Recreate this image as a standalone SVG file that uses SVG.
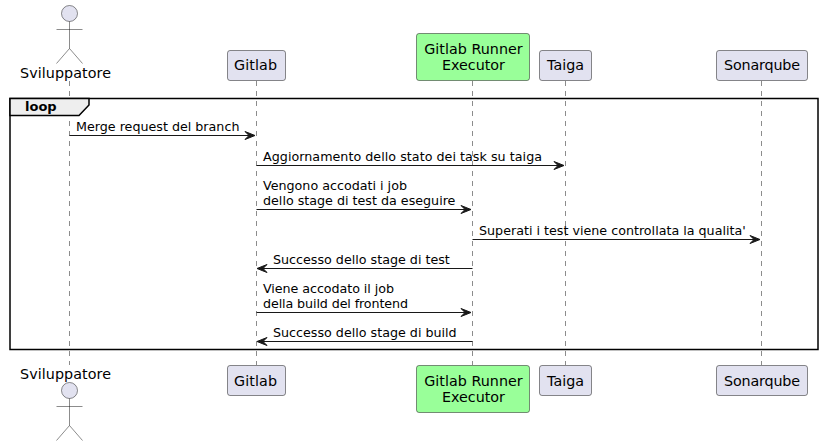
<svg xmlns="http://www.w3.org/2000/svg" width="822" height="446" viewBox="0 0 822 446">
<style>
text{font-family:"DejaVu Sans",sans-serif;fill:#000}
.p{font-size:14.3px;text-anchor:middle}
.m{font-size:12.7px}
.box{fill:#E2E2F0;stroke:#181818;stroke-width:.5}
.run{fill:#99FF99;stroke:#181818;stroke-width:.5}
.life{stroke:#181818;stroke-width:.5;stroke-dasharray:5,5;fill:none}
.msg{stroke:#181818;stroke-width:1;fill:none}
.act{fill:none;stroke:#181818;stroke-width:.5}
.head{fill:#E2E2F0;stroke:#181818;stroke-width:.5}
.ah{fill:#181818;stroke:#181818;stroke-width:1}
</style>
<g id="lifelines">
<line class="life" x1="69.5" y1="81" x2="69.5" y2="365"/>
<line class="life" x1="256.5" y1="81" x2="256.5" y2="365"/>
<line class="life" x1="472.5" y1="81" x2="472.5" y2="365"/>
<line class="life" x1="565.5" y1="81" x2="565.5" y2="365"/>
<line class="life" x1="761.5" y1="81" x2="761.5" y2="365"/>
</g>
<g id="loop">
<rect x="10" y="98.5" width="808" height="251" fill="none" stroke="#000" stroke-width="1.5"/>
<path d="M10 98.5H89V105L79 115.5H10Z" fill="#EEEEEE" stroke="#000" stroke-width="1.5"/>
<text x="25" y="111" font-size="13" font-weight="bold">loop</text>
</g>
<g id="connectors">
<line class="msg" x1="69.5" y1="135.5" x2="252" y2="135.5"/><path class="ah" d="M245 131.5L255 135.5L245 139.5L249 135.5Z"/>
<text class="m" x="76" y="131">Merge request del branch</text>
<line class="msg" x1="256.5" y1="165.5" x2="561" y2="165.5"/><path class="ah" d="M554 161.5L564 165.5L554 169.5L558 165.5Z"/>
<text class="m" x="263" y="160.8" textLength="279">Aggiornamento dello stato dei task su taiga</text>
<line class="msg" x1="256.5" y1="209.5" x2="468" y2="209.5"/><path class="ah" d="M461 205.5L471 209.5L461 213.5L465 209.5Z"/>
<text class="m" x="263" y="190">Vengono accodati i job</text>
<text class="m" x="263" y="204.8">dello stage di test da eseguire</text>
<line class="msg" x1="472.5" y1="239.5" x2="757" y2="239.5"/><path class="ah" d="M750 235.5L760 239.5L750 243.5L754 239.5Z"/>
<text class="m" x="479" y="234.5">Superati i test viene controllata la qualita'</text>
<line class="msg" x1="261" y1="268.5" x2="472.5" y2="268.5"/><path class="ah" d="M267 264.5L257 268.5L267 272.5L263 268.5Z"/>
<text class="m" x="273" y="263.5">Successo dello stage di test</text>
<line class="msg" x1="256.5" y1="312.5" x2="468" y2="312.5"/><path class="ah" d="M461 308.5L471 312.5L461 316.5L465 312.5Z"/>
<text class="m" x="263" y="292.5" textLength="131">Viene accodato il job</text>
<text class="m" x="263" y="307.5" textLength="145">della build del frontend</text>
<line class="msg" x1="261" y1="341.5" x2="472.5" y2="341.5"/><path class="ah" d="M267 337.5L257 341.5L267 345.5L263 341.5Z"/>
<text class="m" x="273" y="337">Successo dello stage di build</text>
</g>
<g id="sviluppatore-top">
<circle class="head" cx="69.5" cy="13.5" r="8"/>
<path class="act" d="M69.5 21.5V48.5M56.5 29.5H82.5M69.5 48.5L56.5 63.5M69.5 48.5L82.5 63.5"/>
<text class="p" x="65.5" y="78" textLength="91">Sviluppatore</text>
</g>
<g id="gitlab-top">
<rect class="box" x="227.5" y="50.5" width="58" height="30" rx="2.5"/>
<text class="p" x="255.5" y="70" textLength="43">Gitlab</text>
</g>
<g id="runner-top">
<rect class="run" x="416.5" y="33.5" width="113" height="47" rx="2.5"/>
<text class="p" x="473.5" y="54" textLength="98.5">Gitlab Runner</text>
<text class="p" x="473.5" y="70" textLength="63">Executor</text>
</g>
<g id="taiga-top">
<rect class="box" x="539.5" y="50.5" width="52" height="30" rx="2.5"/>
<text class="p" x="565.5" y="70" textLength="37">Taiga</text>
</g>
<g id="sonarqube-top">
<rect class="box" x="716.5" y="50.5" width="91" height="30" rx="2.5"/>
<text class="p" x="762" y="70" textLength="76">Sonarqube</text>
</g>
<g id="sviluppatore-bottom">
<text class="p" x="65.5" y="379" textLength="91">Sviluppatore</text>
<circle class="head" cx="69.5" cy="390.5" r="8"/>
<path class="act" d="M69.5 398.5V425.5M56.5 406.5H82.5M69.5 425.5L56.5 440.5M69.5 425.5L82.5 440.5"/>
</g>
<g id="gitlab-bottom">
<rect class="box" x="227.5" y="365.5" width="58" height="30" rx="2.5"/>
<text class="p" x="255.5" y="386" textLength="43">Gitlab</text>
</g>
<g id="runner-bottom">
<rect class="run" x="416.5" y="365.5" width="113" height="47" rx="2.5"/>
<text class="p" x="473.5" y="386" textLength="98.5">Gitlab Runner</text>
<text class="p" x="473.5" y="402" textLength="63">Executor</text>
</g>
<g id="taiga-bottom">
<rect class="box" x="539.5" y="365.5" width="52" height="30" rx="2.5"/>
<text class="p" x="565.5" y="386" textLength="37">Taiga</text>
</g>
<g id="sonarqube-bottom">
<rect class="box" x="716.5" y="365.5" width="91" height="30" rx="2.5"/>
<text class="p" x="762" y="386" textLength="76">Sonarqube</text>
</g>
</svg>
